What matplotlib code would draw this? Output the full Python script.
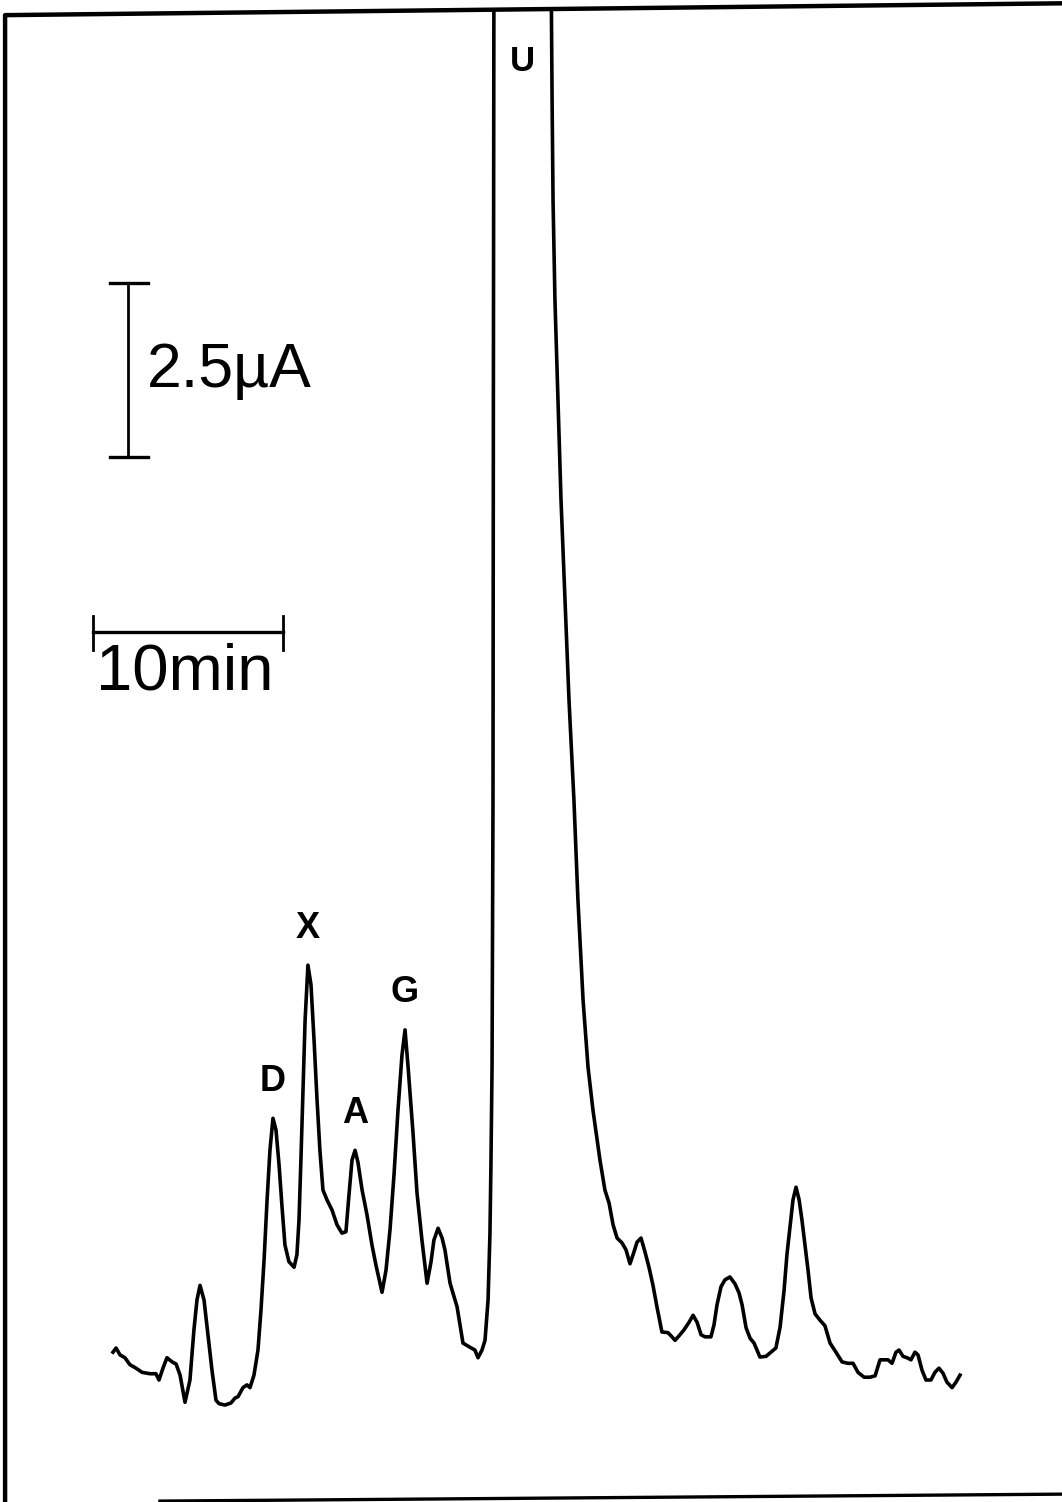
import numpy as np
import matplotlib.pyplot as plt
from matplotlib.patches import Polygon

# detector current (uA) against elution time (min)
time_min = [
    0.0, 0.16, 0.37, 0.63, 0.89, 1.21, 1.53, 1.95, 2.26, 2.42, 2.63, 2.84, 3.11, 3.32,
    3.53, 3.79, 4.05, 4.26, 4.42, 4.58, 4.79, 5.0, 5.21, 5.42, 5.58, 5.89, 6.21, 6.42,
    6.58, 6.84, 7.05, 7.21, 7.42, 7.63, 7.79, 7.95, 8.11, 8.26, 8.42, 8.58, 8.74, 8.89,
    9.05, 9.26, 9.53, 9.68, 9.79, 9.89, 10.0, 10.11, 10.26, 10.42, 10.58, 10.74, 10.89,
    11.05, 11.26, 11.53, 11.79, 12.05, 12.26, 12.42, 12.58, 12.74, 12.89, 13.11, 13.37,
    13.63, 13.84, 14.16, 14.37, 14.58, 14.79, 15.0, 15.21, 15.37, 15.53, 15.79, 16.0,
    16.26, 16.53, 16.74, 16.89, 17.11, 17.32, 17.47, 17.74, 18.11, 18.42, 18.79, 19.05,
    19.21, 19.42, 19.58, 19.74, 19.84, 19.89, 19.95, 20.0, 20.02, 20.05,
    22.5,
    23.05, 23.11, 23.16, 23.26, 23.42, 23.58, 23.79, 24.0, 24.26, 24.47, 24.74, 25.0,
    25.26, 25.63, 25.89, 26.11, 26.32, 26.53, 26.79, 27.0, 27.21, 27.42, 27.58, 27.79,
    28.0, 28.21, 28.42, 28.63, 28.89, 29.21, 29.42, 29.58, 29.84, 30.05, 30.32, 30.53,
    30.74, 30.95, 31.16, 31.47, 31.63, 31.79, 32.0, 32.21, 32.47, 32.74, 32.95, 33.11,
    33.32, 33.53, 33.74, 34.05, 34.37, 34.63, 34.89, 35.11, 35.32, 35.47, 35.63, 35.79,
    35.95, 36.11, 36.26, 36.42, 36.58, 36.74, 36.95, 37.21, 37.47, 37.74, 38.05, 38.37,
    38.68, 38.95, 39.21, 39.53, 39.84, 40.11, 40.37, 40.58, 40.79, 41.0, 41.21, 41.37,
    41.58, 41.79, 42.0, 42.21, 42.37, 42.58, 42.79, 43.05, 43.26, 43.47, 43.68, 43.89,
    44.16, 44.37, 44.58,
]
current_ua = [
    0.40, 0.46, 0.36, 0.32, 0.22, 0.17, 0.11, 0.09, 0.09, 0.0, 0.17, 0.32, 0.26, 0.23,
    0.07, -0.32, 0.0, 0.72, 1.15, 1.36, 1.15, 0.65, 0.14, -0.29, -0.34, -0.36, -0.33, -0.26,
    -0.24, -0.11, -0.07, -0.11, 0.07, 0.43, 1.01, 1.72, 2.59, 3.30, 3.76, 3.59, 3.09, 2.51,
    1.94, 1.70, 1.62, 1.80, 2.30, 3.16, 4.17, 5.17, 5.96, 5.68, 4.89, 4.02, 3.30,
    2.73, 2.59, 2.44, 2.23, 2.11, 2.13, 2.66, 3.16, 3.30, 3.13, 2.73, 2.37,
    1.94, 1.65, 1.26, 1.58, 2.16, 2.95, 3.88, 4.67, 5.03, 4.50, 3.55, 2.69,
    2.01, 1.39, 1.70, 2.01, 2.18, 2.04, 1.87, 1.39, 1.05, 0.53, 0.47, 0.43,
    0.32, 0.43, 0.57, 1.15, 2.11, 3.06, 4.50, 8.33, 14.08, 20.55,
    28.0,
    20.55, 18.39, 16.95, 15.52, 14.08, 12.64, 11.21, 9.77, 8.33, 6.90, 5.46, 4.50,
    3.88, 3.16, 2.73, 2.54, 2.23, 2.04, 1.97, 1.87, 1.67, 1.84, 1.98, 2.04,
    1.84, 1.62, 1.36, 1.05, 0.69, 0.68, 0.62, 0.57, 0.65, 0.72, 0.83, 0.93,
    0.83, 0.65, 0.62, 0.62, 0.79, 1.08, 1.34, 1.44, 1.48, 1.38, 1.25, 1.08,
    0.75, 0.60, 0.53, 0.33, 0.34, 0.40, 0.46, 0.76, 1.29, 1.80, 2.20, 2.59,
    2.77, 2.59, 2.30, 1.94, 1.58, 1.18, 0.95, 0.86, 0.78, 0.53, 0.40, 0.26,
    0.24, 0.24, 0.11, 0.04, 0.04, 0.06, 0.29, 0.29, 0.29, 0.24, 0.40, 0.43,
    0.34, 0.32, 0.29, 0.40, 0.36, 0.14, 0.0, 0.0, 0.11, 0.17, 0.10, -0.03,
    -0.11, -0.03, 0.07,
]

# labelled peaks and their retention times
peak_names = ["D", "X", "A", "G"]
peak_times = [8.42, 10.26, 12.74, 15.37]

# scale bars
current_bar = 2.5   # uA
time_bar = 10       # min

# hand-drawn border of the recorder sheet
border_t = [49.95, -5.68, -5.68]
border_i = [19.78, 19.61, -1.80]
bottom_t = [2.47, 49.95]
bottom_i = [-1.74, -1.64]

t = np.array(time_min)
i = np.array(current_ua)

fig = plt.figure(figsize=(10.62, 15.02), dpi=100)
ax = fig.add_axes([0, 0, 1, 1])
ax.set_xlim(-113 / 19, (1062 - 113) / 19)
ax.set_ylim((1380 - 1502) / 69.6, 1380 / 69.6)
ax.axis("off")

# trace, clipped to the sheet border so the U peak runs off the top
sheet = Polygon([[-5.68, -1.8], [-5.68, 19.61], [49.95, 19.78], [49.95, -1.8]],
                closed=True, transform=ax.transData, facecolor="none", edgecolor="none")
ax.add_patch(sheet)
trace, = ax.plot(t, i, color="black", lw=2.6, solid_joinstyle="round")
trace.set_clip_path(sheet)

ax.plot(border_t, border_i, color="black", lw=3.2)
ax.plot(bottom_t, bottom_i, color="black", lw=2.4)

for name, pt in zip(peak_names, peak_times):
    h = np.interp(pt, t, i)
    ax.annotate(name, (pt, h), xytext=(0, 14), textcoords="offset points",
                ha="center", va="bottom", fontsize=26, fontweight="bold",
                family="Liberation Sans")
ax.text(21.53, 18.94, "U", ha="center", va="center", fontsize=25,
        fontweight="bold", family="Liberation Sans")

# vertical current bar
vx, vtop = 0.79, 15.76
ax.plot([vx, vx], [vtop, vtop - current_bar], color="black", lw=2)
ax.plot([vx - 0.95, vx + 1.05], [vtop, vtop], color="black", lw=2.4)
ax.plot([vx - 0.95, vx + 1.05], [vtop - current_bar] * 2, color="black", lw=2.4)
ax.text(vx + 1.0, vtop - 1.25, "2.5µA", ha="left", va="center", fontsize=45,
        family="Liberation Sans")

# horizontal time bar
hx, hy = -1.05, 10.75
ax.plot([hx, hx + time_bar], [hy, hy], color="black", lw=2.4)
ax.plot([hx, hx], [hy - 0.26, hy + 0.22], color="black", lw=2)
ax.plot([hx + time_bar, hx + time_bar], [hy - 0.26, hy + 0.22], color="black", lw=2)
ax.text(hx + 0.15, hy - 0.15, "10min", ha="left", va="top", fontsize=47,
        family="Liberation Sans")

fig.savefig("out.png", dpi=100, facecolor="white")
